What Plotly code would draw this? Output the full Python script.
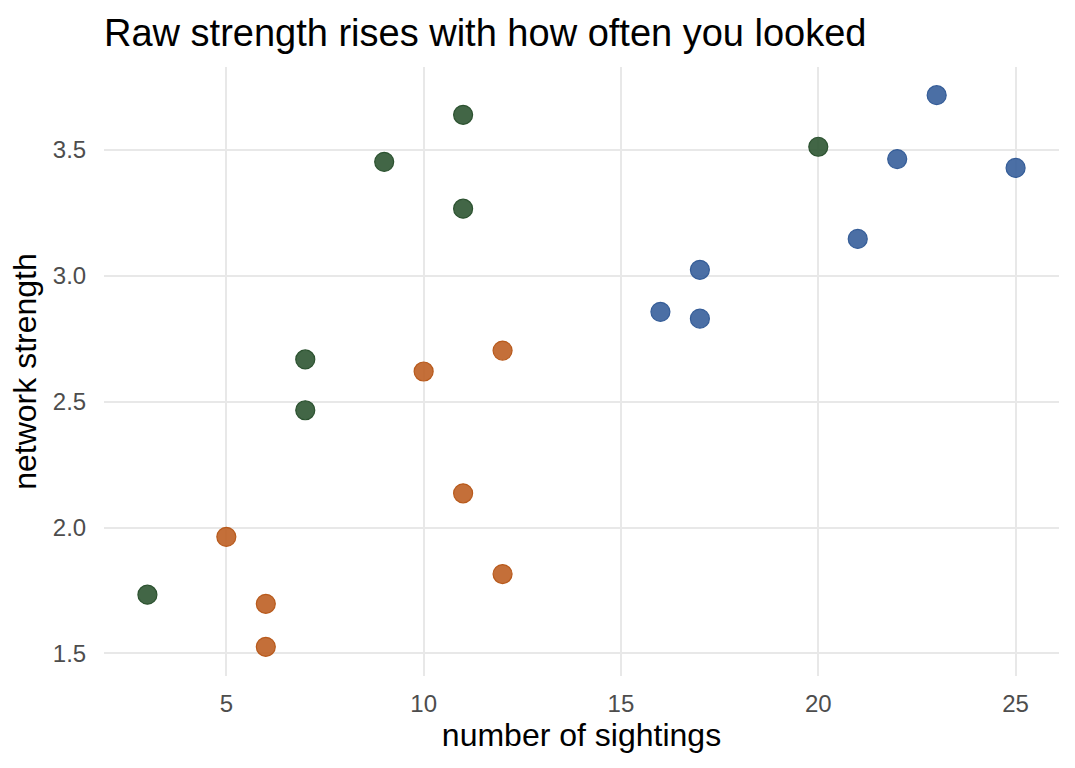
import plotly.graph_objects as go

green_x = [3, 7, 7, 9, 11, 11, 20]
green_y = [1.733, 2.668, 2.466, 3.453, 3.640, 3.267, 3.513]
orange_x = [5, 6, 6, 10, 11, 12, 12]
orange_y = [1.963, 1.697, 1.526, 2.620, 2.136, 2.703, 1.815]
blue_x = [16, 17, 17, 21, 22, 23, 25]
blue_y = [2.857, 3.024, 2.830, 3.147, 3.464, 3.718, 3.429]

x_ticks = [5, 10, 15, 20, 25]
y_ticks = [1.5, 2.0, 2.5, 3.0, 3.5]
y_tick_labels = ["1.5", "2.0", "2.5", "3.0", "3.5"]

groups = [
    (green_x, green_y, "rgba(45,85,50,0.9)", "#2c5230"),
    (orange_x, orange_y, "rgba(190,95,35,0.9)", "#b85a1c"),
    (blue_x, blue_y, "rgba(55,95,155,0.9)", "#355d98"),
]

fig = go.Figure()
for xs, ys, fill, edge in groups:
    fig.add_trace(go.Scatter(
        x=xs, y=ys, mode="markers",
        marker=dict(size=19, color=fill, line=dict(color=edge, width=1.2)),
        showlegend=False,
    ))

font_family = "Liberation Sans, Arial, sans-serif"
fig.update_layout(
    width=1075, height=768,
    margin=dict(l=104, r=16, t=67, b=92),
    plot_bgcolor="white", paper_bgcolor="white",
    font=dict(family=font_family, color="black"),
    title=dict(text="Raw strength rises with how often you looked",
               x=104/1075, xref="container", xanchor="left",
               y=1-33/768, yref="container", yanchor="middle",
               font=dict(size=38, color="black", family=font_family)),
    xaxis=dict(
        range=[1.9, 26.1], tickvals=x_ticks, ticktext=[str(v) for v in x_ticks],
        showgrid=True, gridcolor="#e8e8e8", gridwidth=2, zeroline=False, showline=False,
        ticks="outside", ticklen=6, tickcolor="rgba(0,0,0,0)",
        tickfont=dict(size=24, color="#4d4d4d"),
        title=dict(text="number of sightings", font=dict(size=32, color="black"), standoff=4),
    ),
    yaxis=dict(
        range=[1.41, 3.83], tickvals=y_ticks, ticktext=y_tick_labels,
        showgrid=True, gridcolor="#e8e8e8", gridwidth=2, zeroline=False, showline=False,
        ticks="outside", ticklen=12, tickcolor="rgba(0,0,0,0)",
        tickfont=dict(size=24, color="#4d4d4d"),
        title=dict(text="network strength", font=dict(size=32, color="black"), standoff=6),
    ),
)

fig.write_html("out.html")
